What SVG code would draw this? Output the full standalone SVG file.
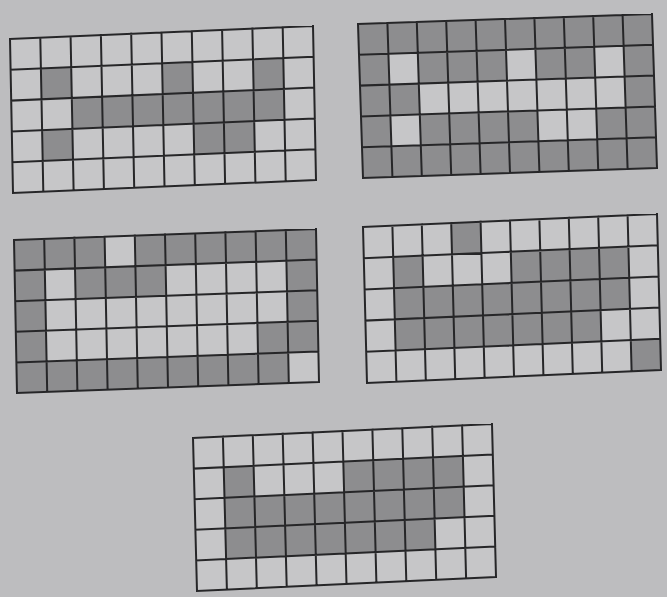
<svg xmlns="http://www.w3.org/2000/svg" width="667" height="597" viewBox="0 0 667 597">
  <style>
    .bg { fill: #bdbdbf; }
    .paper { fill: #c6c6c8; }
    .g { fill: #8d8d8f; }
    .ln { fill: none; stroke: #262628; stroke-width: 2; vector-effect: non-scaling-stroke; stroke-linecap: square; }
  </style>
  <defs>
    <path id="lines" class="ln" vector-effect="non-scaling-stroke" d="M0 0H10M0 1H10M0 2H10M0 3H10M0 4H10M0 5H10M0 0V5M1 0V5M2 0V5M3 0V5M4 0V5M5 0V5M6 0V5M7 0V5M8 0V5M9 0V5M10 0V5"/>
  </defs>
  <rect class="bg" x="0" y="0" width="667" height="597"/>

  <g id="grid1" transform="matrix(30.3,-1.3,0.6,30.8,10,39)">
    <rect class="paper" x="0" y="0" width="10" height="5"/>
    <rect class="g" x="1" y="1" width="1" height="1"/>
    <rect class="g" x="5" y="1" width="1" height="1"/>
    <rect class="g" x="8" y="1" width="1" height="1"/>
    <rect class="g" x="2" y="2" width="7" height="1"/>
    <rect class="g" x="1" y="3" width="1" height="1"/>
    <rect class="g" x="6" y="3" width="2" height="1"/>
    <use href="#lines"/>
  </g>

  <g id="grid2" transform="matrix(29.4,-1.0,1.0,30.8,358,24)">
    <rect class="g" x="0" y="0" width="10" height="5"/>
    <rect class="paper" x="1" y="1" width="1" height="1"/>
    <rect class="paper" x="5" y="1" width="1" height="1"/>
    <rect class="paper" x="8" y="1" width="1" height="1"/>
    <rect class="paper" x="2" y="2" width="7" height="1"/>
    <rect class="paper" x="1" y="3" width="1" height="1"/>
    <rect class="paper" x="6" y="3" width="2" height="1"/>
    <use href="#lines"/>
  </g>

  <g id="grid3" transform="matrix(30.2,-1.1,0.6,30.6,14,240)">
    <rect class="g" x="0" y="0" width="10" height="5"/>
    <rect class="paper" x="3" y="0" width="1" height="1"/>
    <rect class="paper" x="1" y="1" width="1" height="1"/>
    <rect class="paper" x="5" y="1" width="4" height="1"/>
    <rect class="paper" x="1" y="2" width="8" height="1"/>
    <rect class="paper" x="1" y="3" width="7" height="1"/>
    <rect class="paper" x="9" y="4" width="1" height="1"/>
    <use href="#lines"/>
  </g>

  <g id="grid4" transform="matrix(29.4,-1.3,0.8,31.2,363,227)">
    <rect class="paper" x="0" y="0" width="10" height="5"/>
    <rect class="g" x="3" y="0" width="1" height="1"/>
    <rect class="g" x="1" y="1" width="1" height="1"/>
    <rect class="g" x="5" y="1" width="4" height="1"/>
    <rect class="g" x="1" y="2" width="8" height="1"/>
    <rect class="g" x="1" y="3" width="7" height="1"/>
    <rect class="g" x="9" y="4" width="1" height="1"/>
    <use href="#lines"/>
  </g>

  <g id="grid5" transform="matrix(29.9,-1.4,0.8,30.6,193,438)">
    <rect class="paper" x="0" y="0" width="10" height="5"/>
    <rect class="g" x="1" y="1" width="1" height="1"/>
    <rect class="g" x="5" y="1" width="4" height="1"/>
    <rect class="g" x="1" y="2" width="8" height="1"/>
    <rect class="g" x="1" y="3" width="7" height="1"/>
    <use href="#lines"/>
  </g>
</svg>
